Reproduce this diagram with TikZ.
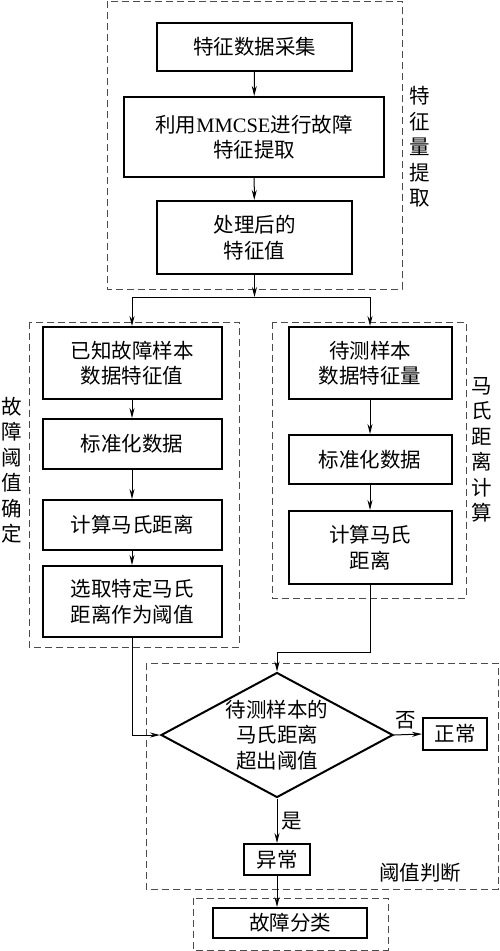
\documentclass[tikz,border=0pt]{standalone}
\usepackage{fontspec}
\setmainfont{Liberation Serif}
\newfontfamily\cjk{Noto Sans CJK SC}
\usetikzlibrary{shapes.geometric,arrows.meta}

\begin{document}
\begin{tikzpicture}[
          x=1pt, y=-1pt,
          every node/.style={font=\cjk\fontsize{20.5}{25.5}\selectfont},
          box/.style={draw, line width=2pt, align=center, inner sep=0pt},
          group/.style={draw=black!70, line width=1pt, dash pattern=on 7pt off 4pt},
          flow/.style={line width=1pt, -{Stealth[length=10pt,width=5pt]}},
          decide/.style={draw, diamond, line width=2pt, minimum width=232pt, minimum height=125pt, inner sep=0pt},
          side/.style={align=center, inner sep=0pt},
        ]
        \useasboundingbox (0,0) rectangle (499,951);

        \draw[group] (107,1) rectangle (402,289);
        \draw[group] (29,322) rectangle (239,647);
        \draw[group] (272,322) rectangle (466,598);
        \draw[group] (146,663) rectangle (498,889);
        \draw[group] (193,898) rectangle (388,950);

        \path (254.5,47) node[box, minimum width=195pt, minimum height=48pt] (collect) {特征数据采集};
        \path (254,137) node[box, minimum width=260pt, minimum height=80pt] (extract) {利用{\rmfamily MMCSE}进行故障\\特征提取};
        \path (254.5,237.5) node[box, minimum width=195pt, minimum height=73pt] (processed) {处理后的\\特征值};

        \path (132,363) node[box, minimum width=179pt, minimum height=72pt] (known) {已知故障样本\\数据特征值};
        \path (132,444) node[box, minimum width=179pt, minimum height=50pt] (stdleft) {标准化数据};
        \path (132,525) node[box, minimum width=179pt, minimum height=50pt] (mahaleft) {计算马氏距离};
        \path (132,601.5) node[box, minimum width=179pt, minimum height=71pt] (threshold) {选取特定马氏\\距离作为阈值};

        \path (370,363) node[box, minimum width=163pt, minimum height=72pt] (sample) {待测样本\\数据特征量};
        \path (370,459.5) node[box, minimum width=163pt, minimum height=49pt] (stdright) {标准化数据};
        \path (370,547.5) node[box, minimum width=163pt, minimum height=73pt] (maharight) {计算马氏\\距离};

        \path (277,735) node[decide] (judge) {};
        \path (judge.center) node[side] (judgetext) {待测样本的\\马氏距离\\超出阈值};
        \path (455,734) node[box, minimum width=64pt, minimum height=32pt] (normal) {正常};
        \path (277,859.5) node[box, minimum width=66pt, minimum height=31pt] (abnormal) {异常};
        \path (290,923) node[box, minimum width=154pt, minimum height=30pt] (classify) {故障分类};

        \path (420,147) node[side] (extractlabel) {特\\征\\量\\提\\取};
        \path (12,470) node[side] (thresholdlabel) {故\\障\\阈\\值\\确\\定};
        \path (482,450) node[side] (mahalabel) {马\\氏\\距\\离\\计\\算};
        \path (420,873) node[side] (judgelabel) {阈值判断};

        \coordinate (fork) at (254.5,297);

        \draw[flow] (collect) -- (extract);
        \draw[flow] (extract) -- (processed);
        \draw[flow] (processed) -- (fork);
        \draw[flow] (fork) -| (known.north);
        \draw[flow] (fork) -| (sample.north);

        \draw[flow] (known) -- (stdleft);
        \draw[flow] (stdleft) -- (mahaleft);
        \draw[flow] (mahaleft) -- (threshold);
        \draw[flow] (sample) -- (stdright);
        \draw[flow] (stdright) -- (maharight);

        \draw[flow] (threshold.south) |- (judge.west);
        \draw[flow] (maharight.south) -- ++(0,67.5) -| (judge.north);
        \draw[flow] (judge.east) -- node[above, inner sep=5pt, xshift=-2pt] (no) {否} (normal.west);
        \draw[flow] (judge.south) -- node[right, inner sep=4pt] (yes) {是} (abnormal.north);
        \draw[flow] (abnormal.south) -- (abnormal.south |- classify.north);
      \end{tikzpicture}
\end{document}
